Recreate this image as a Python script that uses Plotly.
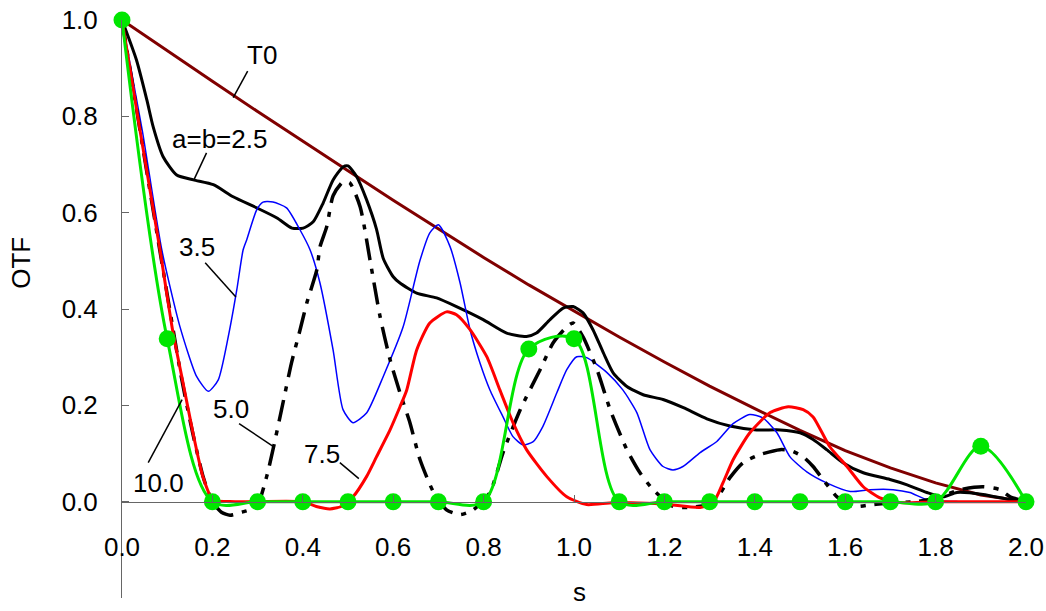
import plotly.graph_objects as go

# ---------------- data ----------------
t0_s = [0.0, 0.1, 0.2, 0.3, 0.4, 0.5, 0.6, 0.7, 0.8, 0.9, 1.0,
        1.1, 1.2, 1.3, 1.4, 1.5, 1.6, 1.7, 1.8, 1.9, 2.0]
t0_v = [1.0, 0.936, 0.873, 0.810, 0.748, 0.687, 0.626, 0.566, 0.507, 0.450, 0.396,
        0.342, 0.290, 0.240, 0.193, 0.148, 0.106, 0.070, 0.039, 0.014, 0.0]

ab25_s = [0.0, 0.032, 0.055, 0.069, 0.091, 0.121, 0.158, 0.202, 0.246, 0.298, 0.343,
          0.376, 0.401, 0.423, 0.445, 0.467, 0.489, 0.5, 0.519, 0.541, 0.563, 0.578,
          0.6, 0.615, 0.652, 0.696, 0.74, 0.799, 0.851, 0.895, 0.917, 0.947, 0.976,
          0.998, 1.02, 1.042, 1.065, 1.087, 1.117, 1.153, 1.197, 1.242, 1.294, 1.345,
          1.404, 1.456, 1.5, 1.529, 1.559, 1.595, 1.64, 1.699, 1.737, 1.781, 1.817,
          1.847, 1.905, 1.965, 2.0]
ab25_v = [1.0, 0.917, 0.834, 0.778, 0.716, 0.678, 0.668, 0.658, 0.633, 0.61, 0.589,
          0.568, 0.568, 0.581, 0.62, 0.668, 0.695, 0.697, 0.675, 0.627, 0.566, 0.505,
          0.467, 0.454, 0.433, 0.423, 0.405, 0.378, 0.35, 0.343, 0.35, 0.378, 0.402,
          0.405, 0.392, 0.357, 0.309, 0.267, 0.239, 0.222, 0.212, 0.195, 0.172, 0.157,
          0.149, 0.149, 0.143, 0.129, 0.108, 0.081, 0.06, 0.046, 0.035, 0.019, 0.01,
          0.019, 0.015, 0.004, 0.0]

a35_s = [0.0, 0.045, 0.088, 0.128, 0.165, 0.191, 0.213, 0.235, 0.254, 0.268, 0.276,
         0.298, 0.312, 0.334, 0.364, 0.394, 0.416, 0.438, 0.467, 0.489, 0.511, 0.541,
         0.578, 0.622, 0.659, 0.681, 0.7, 0.726, 0.748, 0.77, 0.792, 0.814, 0.843,
         0.865, 0.887, 0.909, 0.931, 0.962, 0.984, 1.006, 1.028, 1.073, 1.108, 1.139,
         1.168, 1.197, 1.219, 1.241, 1.279, 1.316, 1.352, 1.389, 1.418, 1.449, 1.478,
         1.515, 1.559, 1.611, 1.655, 1.706, 1.743, 1.781, 1.85, 2.0]
a35_v = [1.0, 0.77, 0.523, 0.364, 0.26, 0.229, 0.253, 0.342, 0.44, 0.523, 0.544,
         0.606, 0.622, 0.622, 0.61, 0.564, 0.523, 0.454, 0.315, 0.191, 0.164, 0.184,
         0.26, 0.363, 0.5, 0.558, 0.575, 0.529, 0.454, 0.357, 0.288, 0.232, 0.176,
         0.135, 0.118, 0.124, 0.156, 0.226, 0.274, 0.301, 0.299, 0.268, 0.232, 0.185,
         0.108, 0.073, 0.066, 0.073, 0.102, 0.125, 0.162, 0.181, 0.174, 0.143, 0.093,
         0.062, 0.039, 0.021, 0.025, 0.025, 0.019, 0.004, 0.0, 0.0]

a50_s = [0.0, 0.04, 0.084, 0.131, 0.157, 0.18, 0.2, 0.22, 0.239, 0.265, 0.298,
         0.32, 0.334, 0.353, 0.375, 0.394, 0.409, 0.431, 0.438, 0.453, 0.467, 0.489,
         0.504, 0.527, 0.549, 0.571, 0.593, 0.615, 0.637, 0.659, 0.688, 0.718, 0.748,
         0.777, 0.814, 0.843, 0.881, 0.925, 0.954, 0.984, 0.998, 1.02, 1.051, 1.08,
         1.117, 1.146, 1.175, 1.219, 1.257, 1.308, 1.345, 1.374, 1.412, 1.456, 1.48,
         1.507, 1.529, 1.551, 1.582, 1.617, 1.662, 1.706, 1.758, 1.81, 1.854, 1.905,
         1.942, 1.965, 2.0]
a50_v = [1.0, 0.77, 0.52, 0.26, 0.14, 0.05, 0.0, -0.022, -0.028, -0.022, -0.01,
         0.052, 0.108, 0.191, 0.288, 0.357, 0.413, 0.481, 0.529, 0.571, 0.635, 0.664,
         0.662, 0.612, 0.5, 0.384, 0.295, 0.226, 0.164, 0.088, 0.022, -0.017, -0.027,
         -0.017, 0.019, 0.102, 0.191, 0.274, 0.33, 0.363, 0.371, 0.342, 0.274, 0.191,
         0.108, 0.06, 0.025, -0.01, -0.012, -0.002, 0.05, 0.081, 0.098, 0.108, 0.106,
         0.093, 0.073, 0.046, 0.01, -0.01, -0.006, -0.002, 0.0, 0.01, 0.025, 0.031,
         0.025, 0.01, 0.0]

a75_s = [0.0, 0.04, 0.084, 0.113, 0.135, 0.157, 0.179, 0.201, 0.25, 0.4, 0.43,
         0.46, 0.485, 0.511, 0.541, 0.563, 0.593, 0.615, 0.63, 0.652, 0.681, 0.718,
         0.74, 0.77, 0.807, 0.836, 0.865, 0.895, 0.94, 0.984, 1.028, 1.087, 1.2,
         1.279, 1.308, 1.33, 1.352, 1.389, 1.434, 1.474, 1.507, 1.529, 1.566, 1.604,
         1.64, 1.677, 1.721, 1.8, 2.0]
a75_v = [1.0, 0.77, 0.523, 0.35, 0.247, 0.143, 0.052, 0.004, 0.0, 0.0, -0.01,
         -0.015, -0.01, 0.01, 0.052, 0.093, 0.149, 0.197, 0.232, 0.315, 0.371, 0.394,
         0.388, 0.357, 0.301, 0.232, 0.164, 0.108, 0.052, 0.01, -0.006, -0.002, -0.005,
         -0.012, -0.002, 0.04, 0.087, 0.143, 0.185, 0.197, 0.191, 0.176, 0.114, 0.073,
         0.031, 0.008, -0.002, 0.0, 0.0]

a10_s = [0.0, 0.1, 0.2, 0.3, 0.4, 0.5, 0.6, 0.7, 0.8, 0.9, 1.0,
         1.1, 1.2, 1.3, 1.4, 1.5, 1.6, 1.7, 1.8, 1.9, 2.0]
a10_v = [1.0, 0.338, 0.0, 0.0, 0.0, 0.0, 0.0, 0.0, 0.0, 0.317, 0.338,
         0.0, 0.0, 0.0, 0.0, 0.0, 0.0, 0.0, 0.0, 0.115, 0.0]

x_ticks = [0.0, 0.2, 0.4, 0.6, 0.8, 1.0, 1.2, 1.4, 1.6, 1.8, 2.0]
y_ticks = [-0.2, 0.0, 0.2, 0.4, 0.6, 0.8, 1.0]

# labels: text, text position (s, v), leader line start / end (s, v)
labels = [
    ("T0",      0.310, 0.927, 0.278, 0.894, 0.246, 0.839),
    ("a=b=2.5", 0.215, 0.753, 0.187, 0.724, 0.159, 0.668),
    ("3.5",     0.166, 0.529, 0.184, 0.496, 0.252, 0.425),
    ("5.0",     0.241, 0.193, 0.259, 0.162, 0.336, 0.114),
    ("7.5",     0.442, 0.100, 0.482, 0.081, 0.524, 0.048),
    ("10.0",    0.080, 0.039, 0.058, 0.081, 0.133, 0.212),
]

FONT = "Liberation Sans, Arial, sans-serif"
FS = 26
GREEN = "#00e600"

fig = go.Figure()
fig.add_trace(go.Scatter(x=t0_s, y=t0_v, mode="lines",
                         line=dict(color="#800000", width=3), cliponaxis=False))
fig.add_trace(go.Scatter(x=ab25_s, y=ab25_v, mode="lines",
                         line=dict(color="black", width=3, shape="spline", smoothing=0.6),
                         cliponaxis=False))
fig.add_trace(go.Scatter(x=a35_s, y=a35_v, mode="lines",
                         line=dict(color="#0000ff", width=1.5, shape="spline", smoothing=0.6),
                         cliponaxis=False))
fig.add_trace(go.Scatter(x=a50_s, y=a50_v, mode="lines",
                         line=dict(color="black", width=3.5, shape="spline", smoothing=0.6,
                                   dash="22px,9px,5px,9px"),
                         cliponaxis=False))
fig.add_trace(go.Scatter(x=a75_s, y=a75_v, mode="lines",
                         line=dict(color="#ff0000", width=3, shape="spline", smoothing=0.6),
                         cliponaxis=False))
fig.add_trace(go.Scatter(x=a10_s, y=a10_v, mode="lines+markers",
                         line=dict(color=GREEN, width=3, shape="spline", smoothing=0.9),
                         marker=dict(color=GREEN, size=17),
                         cliponaxis=False))

for txt, tx, ty, x0, y0, x1, y1 in labels:
    fig.add_annotation(x=tx, y=ty, xref="x", yref="y", text=txt, showarrow=False,
                       font=dict(family=FONT, size=FS, color="black"),
                       xanchor="center", yanchor="middle")
    fig.add_shape(type="line", xref="x", yref="y", x0=x0, y0=y0, x1=x1, y1=y1,
                  line=dict(color="black", width=1.5))

fig.add_annotation(text="OTF", xref="paper", yref="paper", x=-0.112, y=0.5796,
                   textangle=-90, showarrow=False, xanchor="center", yanchor="middle",
                   font=dict(family=FONT, size=FS, color="black"))
fig.add_annotation(text="s", xref="paper", yref="paper", x=0.5066, y=-0.019,
                   showarrow=False, xanchor="center", yanchor="bottom",
                   font=dict(family=FONT, size=FS, color="black"))

fig.update_layout(
    width=1046, height=611,
    margin=dict(l=122, r=20, t=20, b=13, autoexpand=False),
    paper_bgcolor="white", plot_bgcolor="white",
    showlegend=False,
    font=dict(family=FONT, size=FS, color="black"),
    xaxis=dict(range=[0, 2.0], tickvals=x_ticks, tickformat=".1f",
               showgrid=False, zeroline=False, showline=True,
               linecolor="#666666", linewidth=1,
               ticks="inside", ticklen=7, tickcolor="#666666",
               anchor="free", position=0.2 / 1.2, automargin=False,
               ticklabelstandoff=22),
    yaxis=dict(range=[-0.2, 1.0], tickvals=y_ticks, tickformat=".1f",
               showgrid=False, zeroline=False, showline=True,
               linecolor="#666666", linewidth=1,
               ticks="inside", ticklen=7, tickcolor="#666666", automargin=False,
               ticklabelstandoff=18),
)

fig.write_html("out.html")
